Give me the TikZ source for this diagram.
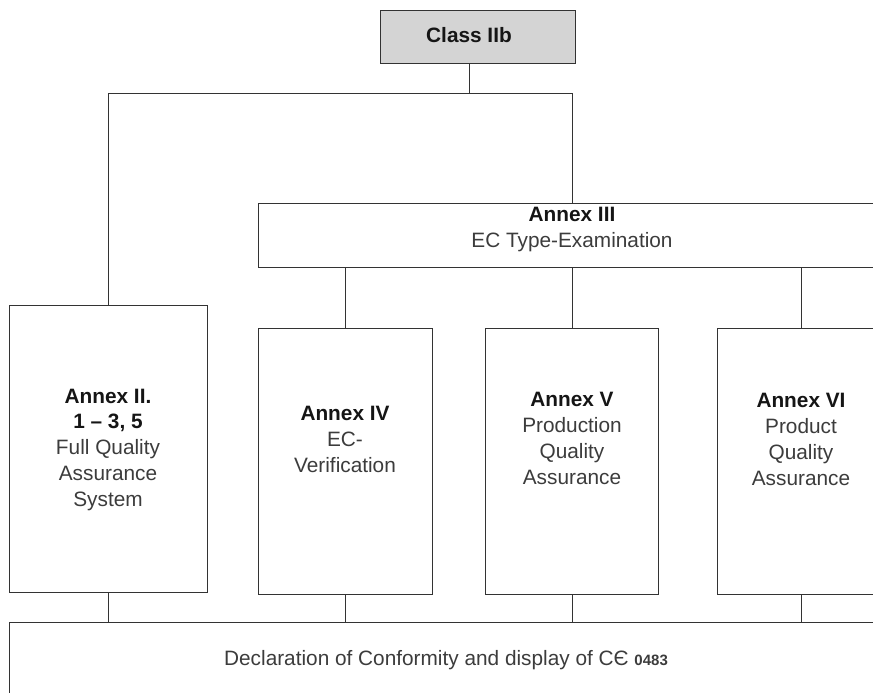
\documentclass[tikz,border=0pt]{standalone}
\usepackage{fontspec}
\setmainfont{Liberation Sans}
\definecolor{lc}{HTML}{333333}
\definecolor{tc}{HTML}{3C3C3C}
\definecolor{bc}{HTML}{151515}
\definecolor{gfill}{HTML}{D4D4D4}
\begin{document}
\begin{tikzpicture}[x=1pt,y=-1pt,line width=1pt,
  box/.style={draw=lc,inner sep=0pt,anchor=north west,fill=white},
  lbl/.style={anchor=base,align=center,inner sep=0pt,text=tc,font=\fontsize{20.8}{25.7}\selectfont},
  conn/.style={draw=lc,line width=1pt}]
\useasboundingbox (0,0) rectangle (873,693);
\fill[white] (0,0) rectangle (873,693);
\clip (0,0) rectangle (873,693);
% boxes
\node[box,fill=gfill,minimum width=195pt,minimum height=53pt] (cls) at (380,10) {};
\node[box,minimum width=628pt,minimum height=64pt] (a3) at (258,203) {};
\node[box,minimum width=198pt,minimum height=287pt] (a2) at (9,305) {};
\node[box,minimum width=174pt,minimum height=266pt] (a4) at (258,328) {};
\node[box,minimum width=173pt,minimum height=266pt] (a5) at (485,328) {};
\node[box,minimum width=168pt,minimum height=266pt] (a6) at (717,328) {};
\node[box,minimum width=874pt,minimum height=90pt] (dec) at (9,622) {};
% junction
\coordinate (j) at (469,93);
\draw[conn] (j |- cls.south) -- (j);
\draw[conn] (a2.north) -- (a2.north |- j) -- (a3.north |- j) -- (a3.north);
\draw[conn] (a4.north) -- (a4.north |- a3.south);
\draw[conn] (a5.north) -- (a5.north |- a3.south);
\draw[conn] (a6.north) -- (a6.north |- a3.south);
\draw[conn] (a2.south) -- (a2.south |- dec.north);
\draw[conn] (a4.south) -- (a4.south |- dec.north);
\draw[conn] (a5.south) -- (a5.south |- dec.north);
\draw[conn] (a6.south) -- (a6.south |- dec.north);
% texts (anchor=base is the baseline of the last line)
\node[lbl,text=bc] (tcls) at (469,43) {\bfseries Class IIb};
\node[lbl] (ta3) at (572,247) {\textcolor{bc}{\bfseries Annex III}\\EC Type-Examination};
\node[lbl] (ta2) at (108,506) {\textcolor{bc}{\bfseries Annex II.}\\\textcolor{bc}{\bfseries 1 -- 3, 5}\\Full Quality\\Assurance\\System};
\node[lbl] (ta4) at (345,472) {\textcolor{bc}{\bfseries Annex IV}\\EC-\\Verification};
\node[lbl] (ta5) at (572,484) {\textcolor{bc}{\bfseries Annex V}\\Production\\Quality\\Assurance};
\node[lbl] (ta6) at (801,485) {\textcolor{bc}{\bfseries Annex VI}\\Product\\Quality\\Assurance};
\node[lbl] (tdec) at (446,665) {Declaration of Conformity and display of CЄ {\bfseries\fontsize{15}{15}\selectfont 0483}};
\end{tikzpicture}
\end{document}
